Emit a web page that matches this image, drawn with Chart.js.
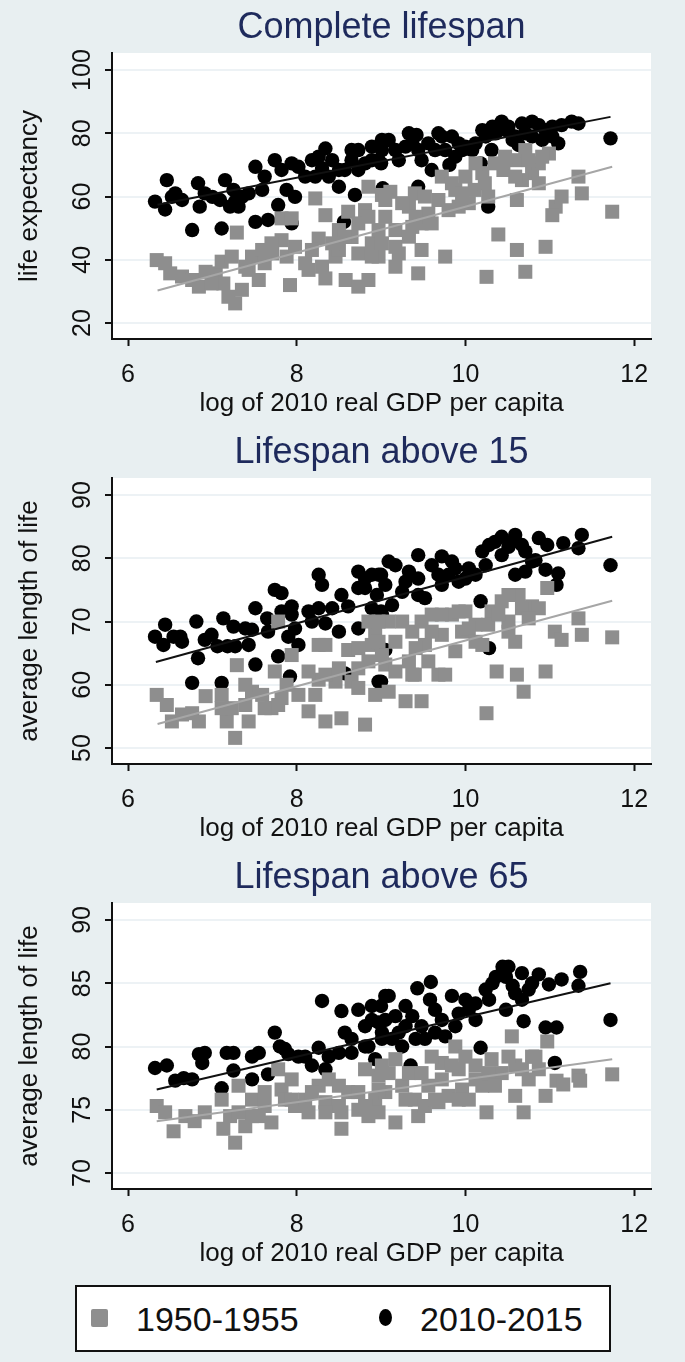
<!DOCTYPE html>
<html>
<head>
<meta charset="utf-8">
<script src="https://cdn.jsdelivr.net/npm/chart.js@4.4.0/dist/chart.umd.min.js"></script>
<style>
  body { margin: 0; width: 685px; height: 1362px; background: #e8eff1; position: relative; overflow: hidden; }
  canvas { position: absolute; left: 0; }
  #legend { position: absolute; left: 75px; top: 1285px; width: 532px; height: 63px; background: #fff; border: 2px solid #111; }
  #legend span { position: absolute; }
  .lbl { font-family: 'Liberation Sans', Arial, sans-serif; font-size: 34px; color: #111; top: 12px; line-height: 40px; }
</style>
</head>
<body>
<canvas id="panel1" width="685" height="425" style="top:0px"></canvas>
<canvas id="panel2" width="685" height="425" style="top:425px"></canvas>
<canvas id="panel3" width="685" height="425" style="top:850px"></canvas>
<div id="legend"></div>
<script>

// series names (legend order)
const seriesNames = ['1950-1955', '2010-2015'];

const xTicks = [6, 8, 10, 12];

// ---- panel 1 : complete lifespan ----
const allYTicks = [20, 40, 60, 80, 100];
const allOldX = [6.34, 6.44, 6.50, 6.64, 6.76, 6.84, 6.92, 7.04, 7.11, 7.13, 7.19, 7.27, 7.29, 7.23, 7.35, 7.43, 7.47, 7.55, 7.59, 7.71,
  7.82, 7.82, 7.94, 7.88, 7.92, 7.98, 8.14, 8.22, 8.26, 8.34, 8.30, 8.34, 8.46, 8.50, 8.58, 8.61, 8.65, 8.73, 8.73, 8.85,
  8.85, 8.81, 8.89, 8.97, 8.97, 9.01, 9.11, 9.05, 9.01, 9.17, 9.21, 9.17, 9.33, 9.40, 9.48, 9.48, 9.44, 9.56, 9.68, 9.72,
  9.76, 9.88, 9.92, 10.00, 10.11, 10.23, 10.27, 10.35, 10.39, 10.45, 10.59, 10.61, 10.71, 10.79, 10.87, 10.61, 10.71, 10.25, 10.95, 10.99,
  11.07, 11.14, 11.03, 11.34, 11.38, 11.74, 10.87, 10.67, 9.37,
  9.25, 9.17, 9.33, 9.52, 9.60, 9.80, 9.84, 9.96, 10.04, 10.20, 10.12, 10.47, 10.59, 10.75, 10.91, 9.05, 9.41,
  8.50, 8.57, 8.73, 8.85, 8.89, 8.18, 8.10, 8.42, 7.62, 7.39, 6.99, 7.70];
const allOldY = [39.9, 38.9, 35.7, 34.7, 33.6, 31.5, 36.2, 35.7, 39.4, 32.5, 28.3, 26.2, 48.6, 41.0, 30.5, 36.8, 41.0, 33.6, 43.1, 42.0,
  46.2, 53.1, 53.1, 41.0, 32.0, 44.1, 36.8, 59.4, 46.7, 54.1, 37.8, 34.1, 41.0, 43.1, 33.6, 55.2, 47.2, 42.0, 31.5, 63.1,
  33.6, 55.7, 45.2, 41.0, 49.4, 60.5, 61.5, 53.6, 45.2, 49.4, 42.0, 37.8, 56.8, 61.0, 51.5, 43.1, 35.7, 54.6, 58.9, 66.3,
  41.0, 62.1, 56.8, 66.3, 62.1, 64.2, 60.0, 70.5, 48.0, 68.4, 71.5, 58.9, 74.7, 67.4, 70.5, 43.1, 36.2, 34.6, 44.1, 73.6,
  56.8, 60.0, 54.1, 66.3, 61.0, 55.2, 64.2, 65.2, 50.4,
  57.9, 44.1, 47.3, 60.0, 51.5, 55.7, 64.2, 61.0, 57.9, 67.4, 70.5, 72.6, 66.3, 71.5, 72.6, 58.9, 53.6,
  49.4, 47.3, 51.5, 53.6, 41.0, 43.1, 38.9, 45.2, 38.9, 37.8, 32.5, 45.2];
const allNewX = [6.32, 6.44, 6.46, 6.56, 6.64, 6.76, 6.83, 6.91, 6.85, 7.11, 7.09, 7.15, 7.21, 7.27, 7.25, 7.35, 7.43, 7.51, 7.51, 7.62,
  7.66, 7.74, 7.78, 7.82, 7.94, 7.88, 7.98, 7.94, 8.10, 8.22, 8.26, 8.34, 8.30, 8.18, 8.50, 8.56, 8.57, 8.69, 8.65, 8.73,
  8.81, 8.89, 8.97, 9.01, 9.01, 9.09, 9.00, 9.17, 9.29, 9.42, 9.44, 9.56, 9.48, 9.72, 9.84, 9.92, 9.76, 9.88, 10.00, 10.12,
  10.20, 10.32, 10.43, 10.51, 10.59, 10.63, 10.67, 10.79, 10.87, 10.95, 11.03, 11.10, 11.14, 11.34, 11.72, 9.44, 9.60, 9.81, 10.18, 10.27,
  9.02, 9.33,
  9.21, 9.37, 9.64, 9.68, 9.96, 10.08, 10.24, 10.36, 10.48, 10.56, 10.71, 10.79, 10.91, 11.03, 11.26, 10.31,
  8.42, 8.50, 8.73, 8.89, 8.65, 8.38, 8.02, 7.59, 7.00, 7.31, 6.52];
const allNewY = [58.4, 55.9, 65.2, 61.0, 58.9, 49.4, 64.2, 61.0, 56.8, 49.9, 58.9, 65.2, 56.8, 58.4, 62.1, 59.9, 61.0, 69.4, 52.0, 66.3,
  52.6, 71.5, 57.3, 68.4, 70.5, 62.1, 59.9, 51.5, 66.3, 66.3, 72.6, 75.2, 69.0, 71.5, 63.1, 52.0, 68.4, 60.5, 71.5, 74.7,
  70.5, 75.8, 71.5, 77.9, 74.7, 77.9, 70.5, 74.7, 75.8, 79.5, 74.7, 76.8, 71.5, 79.0, 79.0, 76.8, 74.7, 72.6, 75.8, 76.8,
  81.0, 82.1, 83.7, 82.1, 79.0, 76.3, 83.1, 83.7, 82.6, 81.0, 79.0, 76.8, 82.6, 83.1, 78.4, 63.1, 68.4, 70.0, 70.5, 56.8,
  62.6, 80.0,
  71.5, 76.8, 74.7, 80.0, 74.7, 74.7, 79.0, 80.0, 81.0, 77.9, 80.0, 79.0, 77.9, 82.1, 83.7, 74.7,
  71.5, 68.4, 68.4, 71.5, 74.7, 66.3, 69.4, 62.1, 59.9, 56.8, 59.9];
const allOldFitX = [6.35, 11.74];
const allOldFitY = [30.3, 69.4];
const allNewFitX = [6.35, 11.72];
const allNewFitY = [57.4, 85.2];

// ---- panel 2 : lifespan above 15 ----
const a15YTicks = [50, 60, 70, 80, 90];
const a15OldX = [6.34, 6.46, 6.52, 6.64, 6.76, 6.84, 6.92, 7.11, 7.17, 7.27, 7.29, 7.23, 7.39, 7.43, 7.47, 7.59, 7.70, 7.74, 7.78, 7.82,
  7.88, 7.94, 8.14, 8.26, 8.26, 8.22, 8.34, 8.34, 8.46, 8.53, 8.61, 8.65, 8.73, 8.73, 8.81, 8.85, 8.89, 8.93, 8.93, 9.09,
  9.05, 9.17, 9.33, 9.40, 9.48, 9.09, 9.29, 9.37, 9.60, 9.52, 9.72, 9.84, 9.88, 9.68, 9.76, 10.00, 10.12, 10.20, 10.31, 10.37,
  10.43, 10.51, 10.59, 10.61, 10.69, 10.63, 10.79, 10.87, 10.97, 10.95, 10.25, 11.06, 11.14, 11.34, 11.38, 11.74, 9.48, 9.96,
  9.01, 9.17, 9.25, 9.41, 9.60, 9.72, 9.92, 10.04, 10.12, 10.27, 10.39, 10.51, 10.67, 10.75, 10.51, 9.56, 9.37,
  8.34, 8.50, 8.73, 8.85, 8.97, 8.97, 8.02, 7.78, 7.62, 7.11, 7.39, 8.14];
const a15OldY = [58.4, 56.8, 54.2, 55.3, 55.5, 54.2, 58.2, 58.4, 54.2, 51.6, 63.1, 56.3, 56.8, 54.2, 58.9, 58.4, 56.3, 62.1, 70.0, 57.9,
  60.0, 64.7, 55.8, 66.3, 60.8, 58.4, 54.2, 66.3, 60.5, 54.7, 65.5, 60.5, 62.6, 59.5, 53.7, 70.0, 66.3, 58.4, 68.4, 70.0,
  63.2, 62.1, 63.7, 61.6, 57.4, 58.9, 57.4, 68.4, 71.1, 66.3, 67.9, 71.1, 65.3, 61.6, 61.6, 71.6, 69.5, 66.3, 71.6, 62.1,
  73.2, 70.0, 66.8, 61.6, 58.9, 74.2, 72.4, 72.1, 75.3, 62.1, 55.5, 68.4, 67.1, 70.5, 67.9, 67.5, 70.0, 68.4,
  64.7, 66.8, 70.0, 65.8, 68.4, 71.1, 71.6, 68.9, 66.8, 69.5, 71.1, 74.2, 72.1, 70.5, 68.4, 63.7, 61.6,
  61.6, 62.6, 65.8, 63.7, 66.8, 70.0, 58.4, 56.8, 56.3, 56.3, 60.0, 62.1];
const a15NewX = [6.32, 6.44, 6.42, 6.54, 6.62, 6.81, 6.83, 6.91, 6.76, 7.11, 7.13, 7.06, 7.18, 7.27, 7.25, 7.43, 7.47, 7.51, 7.51, 7.65,
  7.74, 7.82, 7.78, 7.82, 7.94, 7.90, 8.02, 7.92, 8.14, 8.26, 8.30, 8.26, 8.34, 8.50, 8.53, 8.61, 8.73, 8.81, 8.89, 8.73,
  8.97, 8.95, 9.01, 8.57, 9.00, 9.09, 9.00, 9.13, 9.05, 9.29, 9.44, 9.44, 9.52, 9.60, 9.72, 9.84, 9.80, 9.92, 10.00, 10.12,
  10.20, 10.28, 10.43, 10.55, 10.67, 10.59, 10.71, 10.87, 10.97, 10.83, 10.95, 11.10, 11.16, 11.34, 11.38, 11.72, 10.18, 10.28, 9.00, 9.05,
  11.08,
  9.17, 9.33, 9.68, 9.72, 9.88, 10.04, 10.35, 10.51, 10.59, 10.71, 10.43, 10.24, 9.44, 9.25, 10.79,
  8.81, 8.97, 8.89, 8.73, 8.42, 8.18, 7.94, 7.98, 7.66, 7.39, 6.99, 6.64];
const a15NewY = [67.6, 69.5, 66.3, 67.6, 67.6, 70.0, 64.2, 67.1, 60.3, 60.3, 70.5, 66.1, 66.1, 66.1, 69.2, 66.3, 68.7, 72.1, 63.2, 70.5,
  75.0, 74.5, 64.5, 71.6, 72.4, 67.6, 66.3, 61.3, 71.6, 77.4, 75.8, 72.1, 69.7, 68.4, 74.2, 72.4, 77.9, 75.3, 77.4, 68.9,
  60.5, 74.2, 71.1, 61.8, 77.4, 79.5, 71.6, 72.6, 75.8, 76.3, 80.5, 76.8, 73.7, 78.9, 80.3, 79.5, 77.4, 76.3, 76.8, 77.4,
  81.1, 82.1, 83.4, 82.6, 82.1, 77.4, 77.9, 83.2, 82.1, 79.7, 78.2, 77.6, 82.4, 81.6, 83.7, 78.9, 73.2, 65.8, 60.5, 65.5,
  75.8,
  78.9, 77.9, 77.4, 75.8, 78.4, 78.4, 82.6, 81.8, 83.7, 81.1, 80.5, 78.9, 74.2, 74.7, 79.5,
  76.8, 77.4, 72.1, 75.3, 72.1, 70.0, 71.1, 68.9, 68.4, 68.9, 67.9, 66.8];
const a15OldFitX = [6.35, 11.74];
const a15OldFitY = [53.8, 73.3];
const a15NewFitX = [6.33, 11.74];
const a15NewFitY = [63.6, 83.4];

// ---- panel 3 : lifespan above 65 ----
const a65YTicks = [70, 75, 80, 85, 90];
const a65OldX = [6.34, 6.44, 6.54, 6.68, 6.79, 6.91, 7.11, 7.13, 7.27, 7.21, 7.31, 7.39, 7.47, 7.55, 7.62, 7.70, 7.78, 7.82, 7.94, 7.98,
  8.14, 8.26, 8.34, 8.38, 8.53, 8.53, 8.61, 8.73, 8.81, 8.85, 8.93, 8.97, 9.01, 9.17, 9.05, 9.25, 9.33, 9.40, 9.44, 9.17,
  9.56, 9.68, 9.72, 9.88, 9.92, 9.96, 10.12, 10.20, 10.25, 10.31, 10.43, 10.55, 10.59, 10.59, 10.69, 10.79, 10.87, 10.95, 10.97, 11.08,
  11.16, 11.34, 11.36, 11.74, 9.80, 9.52, 10.04,
  9.09, 9.29, 9.48, 9.60, 9.72, 9.84, 10.00, 10.12, 10.27, 10.35, 10.51, 10.67, 10.75, 10.83, 9.92, 9.64,
  7.86, 8.10, 8.18, 8.50, 8.50, 8.73, 8.81, 8.97, 8.34, 7.47, 7.31, 7.62, 7.94, 8.97];
const a65OldY = [75.3, 74.8, 73.3, 74.5, 74.1, 74.8, 75.8, 73.5, 72.4, 74.5, 76.9, 73.7, 75.8, 74.5, 75.3, 74.0, 78.2, 76.6, 77.4, 75.3,
  74.8, 76.9, 75.6, 77.4, 74.8, 73.5, 76.4, 75.0, 78.2, 74.5, 75.8, 77.7, 78.5, 79.0, 76.4, 76.9, 77.9, 75.8, 74.5, 74.0,
  76.9, 75.6, 78.7, 80.0, 78.2, 76.6, 78.5, 76.9, 74.8, 79.0, 77.9, 80.8, 78.5, 76.1, 74.8, 79.2, 78.2, 76.1, 80.4, 77.3,
  77.0, 77.7, 77.3, 77.8, 76.1, 75.3, 75.8,
  77.9, 75.8, 77.9, 79.2, 77.4, 78.5, 79.2, 77.4, 77.9, 76.9, 79.2, 78.2, 77.4, 79.2, 75.8, 75.8,
  75.8, 75.8, 76.4, 76.9, 75.3, 76.4, 75.3, 74.8, 74.8, 74.5, 74.8, 76.4, 75.8, 76.6];
const a65NewX = [6.32, 6.46, 6.56, 6.66, 6.76, 6.84, 6.88, 6.91, 7.11, 7.17, 7.25, 7.25, 7.47, 7.47, 7.55, 7.66, 7.74, 7.80, 7.90, 8.02,
  8.18, 8.30, 8.26, 8.34, 8.53, 8.50, 8.65, 8.73, 8.65, 8.81, 8.89, 8.85, 8.93, 9.05, 8.97, 9.00, 9.09, 9.05, 9.17, 9.29,
  9.37, 9.43, 9.59, 9.58, 9.48, 9.64, 9.72, 9.84, 9.76, 9.92, 10.04, 10.12, 10.24, 10.32, 10.44, 10.48, 10.56, 10.67, 10.75, 10.87,
  10.99, 11.14, 11.36, 11.34, 10.48, 10.69, 10.95, 11.08, 11.06, 11.72, 10.18, 9.35, 9.21,
  9.01, 9.13, 9.29, 9.41, 9.64, 9.88, 10.00, 10.12, 10.28, 10.36, 10.59, 10.67, 10.79, 10.51, 9.52, 9.25,
  8.57, 8.81, 8.89, 9.01, 8.10, 7.86, 8.38];
const a65NewY = [78.3, 78.5, 77.3, 77.5, 77.4, 79.4, 78.7, 79.5, 76.7, 79.5, 79.5, 78.1, 79.2, 77.4, 79.5, 77.8, 81.1, 80.0, 79.4, 79.2,
  78.5, 83.6, 79.9, 78.2, 82.8, 79.5, 79.5, 82.9, 80.6, 81.6, 83.2, 80.0, 79.0, 84.0, 81.9, 83.2, 84.0, 82.1, 82.4, 83.2,
  82.4, 84.6, 85.1, 83.7, 81.6, 82.9, 82.1, 84.0, 80.8, 82.6, 82.9, 83.4, 84.5, 85.0, 86.3, 85.5, 84.8, 85.8, 84.5, 85.7,
  84.9, 85.3, 85.9, 84.8, 82.9, 82.0, 81.5, 81.5, 78.7, 82.1, 79.9, 78.5, 81.1,
  81.1, 80.6, 81.6, 80.6, 81.1, 81.6, 83.7, 82.1, 83.7, 85.5, 84.2, 83.7, 85.0, 86.3, 80.6, 80.0,
  81.1, 80.0, 82.1, 80.6, 79.2, 79.8, 79.2];
const a65OldFitX = [6.34, 11.74];
const a65OldFitY = [74.1, 79.0];
const a65NewFitX = [6.34, 11.72];
const a65NewFitY = [76.6, 85.0];

const oldColor = '#8e8e8e';
const newColor = '#000000';
const fontFamily = "'Liberation Sans', Arial, sans-serif";


function toPoints(xs, ys) {
    return xs.map((x, i) => ({ x: x, y: ys[i] }));
}

// white plot region, the rest of the canvas keeps the page background
const plotBackground = {
    id: 'plotBackground',
    beforeDraw(chart) {
        const a = chart.chartArea;
        const ctx = chart.ctx;
        ctx.save();
        ctx.fillStyle = '#ffffff';
        ctx.fillRect(a.left, a.top, a.right - a.left, a.bottom - a.top);
        ctx.restore();
    }
};

// panel title, centred over the plot region (Stata style) rather than the canvas
const panelTitle = {
    id: 'panelTitle',
    afterDraw(chart, args, opts) {
        const a = chart.chartArea;
        const ctx = chart.ctx;
        ctx.save();
        ctx.fillStyle = opts.color;
        ctx.font = opts.size + 'px ' + fontFamily;
        ctx.textAlign = 'center';
        ctx.textBaseline = 'middle';
        ctx.fillText(opts.text, (a.left + a.right) / 2, opts.y);
        ctx.restore();
    }
};

function makePanel(canvasId, title, yTitle, yMin, yMax, yTicks, labelPad, oldX, oldY, newX, newY, oldFitX, oldFitY, newFitX, newFitY) {

    const data = {
        datasets: [
            {
                type: 'line',
                data: toPoints(newFitX, newFitY),
                borderColor: '#111111',
                borderWidth: 2,
                pointRadius: 0,
                order: 0
            },
            {
                type: 'line',
                data: toPoints(oldFitX, oldFitY),
                borderColor: '#a6a6a6',
                borderWidth: 2,
                pointRadius: 0,
                order: 0
            },
            {
                label: seriesNames[0],
                data: toPoints(oldX, oldY),
                pointStyle: 'rect',
                pointRadius: 9.9,
                backgroundColor: oldColor,
                borderWidth: 0,
                order: 1
            },
            {
                label: seriesNames[1],
                data: toPoints(newX, newY),
                pointStyle: 'circle',
                pointRadius: 7.2,
                backgroundColor: newColor,
                borderWidth: 0,
                order: 2
            }
        ]
    };

    const config = {
        type: 'scatter',
        data: data,
        plugins: [plotBackground, panelTitle],
        options: {
            responsive: false,
            animation: false,
            events: [],
            layout: { padding: { left: 0, right: 34, top: 53, bottom: 0 } },
            plugins: {
                legend: { display: false },
                tooltip: { enabled: false },
                title: { display: false },
                panelTitle: { text: title, color: '#1e2a5c', size: 36, y: 28 }
            },
            scales: {
                x: {
                    type: 'linear',
                    min: 5.81,
                    max: 12.2,
                    afterBuildTicks: s => { s.ticks = xTicks.map(v => ({ value: v })); },
                    afterFit: s => {
                        s.height = 86;
                        s.paddingLeft = 0; s.paddingRight = 0;
                    },
                    border: { display: true, color: '#111111', width: 2 },
                    grid: { drawOnChartArea: false, tickLength: 7, tickColor: '#111111', tickWidth: 2 },
                    ticks: {
                        color: '#111111',
                        font: { family: fontFamily, size: 25 },
                        padding: 14,
                        maxRotation: 0,
                        minRotation: 0
                    },
                    title: {
                        display: true,
                        text: 'log of 2010 real GDP per capita',
                        color: '#111111',
                        font: { family: fontFamily, size: 26 },
                        padding: { top: 0, bottom: 6 }
                    }
                },
                y: {
                    type: 'linear',
                    min: yMin,
                    max: yMax,
                    afterBuildTicks: s => { s.ticks = yTicks.map(v => ({ value: v })); },
                    afterFit: s => {
                        s.width = 112;
                        s.paddingTop = 0; s.paddingBottom = 0;
                    },
                    border: { display: true, color: '#111111', width: 2 },
                    grid: { color: '#edf2f5', lineWidth: 2, tickLength: 7, tickColor: '#111111', tickWidth: 2 },
                    ticks: {
                        color: '#111111',
                        font: { family: fontFamily, size: 25 },
                        padding: labelPad,
                        crossAlign: 'center',
                        minRotation: 90,
                        maxRotation: 90
                    },
                    title: {
                        display: true,
                        text: yTitle,
                        color: '#111111',
                        font: { family: fontFamily, size: 26 },
                        padding: { top: 14, bottom: 0 }
                    }
                }
            }
        }
    };

    return new Chart(document.getElementById(canvasId), config);
}

function buildLegend() {
    const legend = document.getElementById('legend');
    const marks = [
        { left: 14, top: 22, w: 17, h: 18, radius: '2px', color: oldColor },
        { left: 302, top: 22, w: 13, h: 17, radius: '50%', color: newColor }
    ];
    const textLeft = [59, 343];
    seriesNames.forEach((name, i) => {
        const m = document.createElement('span');
        m.style.left = marks[i].left + 'px';
        m.style.top = marks[i].top + 'px';
        m.style.width = marks[i].w + 'px';
        m.style.height = marks[i].h + 'px';
        m.style.borderRadius = marks[i].radius;
        m.style.background = marks[i].color;
        legend.appendChild(m);

        const t = document.createElement('span');
        t.className = 'lbl';
        t.style.left = textLeft[i] + 'px';
        t.textContent = name;
        legend.appendChild(t);
    });
}


function main() {
    makePanel('panel1', 'Complete lifespan', 'life expectancy', 14.94, 105.4, allYTicks, 1,
        allOldX, allOldY, allNewX, allNewY, allOldFitX, allOldFitY, allNewFitX, allNewFitY);
    makePanel('panel2', 'Lifespan above 15', 'average length of life', 47.47, 92.7, a15YTicks, 8,
        a15OldX, a15OldY, a15NewX, a15NewY, a15OldFitX, a15OldFitY, a15NewFitX, a15NewFitY);
    makePanel('panel3', 'Lifespan above 65', 'average length of life', 68.74, 91.34, a65YTicks, 8,
        a65OldX, a65OldY, a65NewX, a65NewY, a65OldFitX, a65OldFitY, a65NewFitX, a65NewFitY);
    buildLegend();
}

main();
</script>
</body>
</html>
